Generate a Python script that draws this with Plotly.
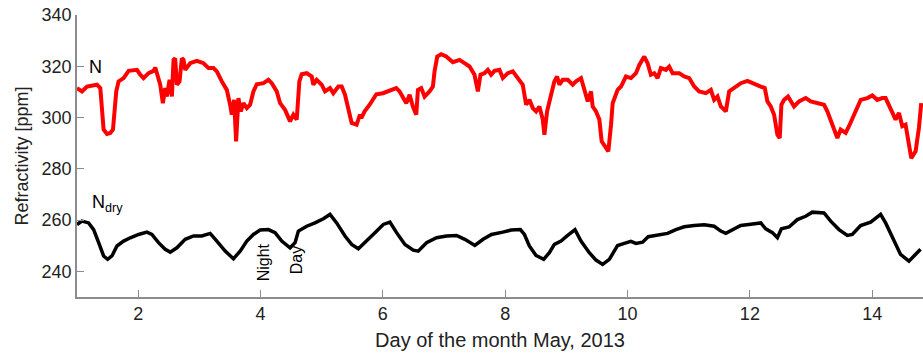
import plotly.graph_objects as go

# Total refractivity N (red)
n_day = [1.000, 1.082, 1.163, 1.327, 1.381, 1.408, 1.435, 1.490, 1.544, 1.588, 1.610, 1.642, 1.680,
         1.762, 1.844, 1.980, 2.034, 2.088, 2.170, 2.252, 2.279, 2.333, 2.361, 2.404, 2.442, 2.469,
         2.513, 2.551, 2.578, 2.605, 2.633, 2.676, 2.714, 2.741, 2.769, 2.850, 2.959, 3.068, 3.150,
         3.231, 3.286, 3.367, 3.449, 3.503, 3.531, 3.569, 3.601, 3.639, 3.678, 3.721, 3.776, 3.830,
         3.884, 3.939, 4.048, 4.129, 4.184, 4.265, 4.320, 4.401, 4.483, 4.537, 4.592, 4.635, 4.673,
         4.755, 4.837, 4.864, 4.918, 5.000, 5.054, 5.136, 5.190, 5.272, 5.327, 5.381, 5.435, 5.490,
         5.571, 5.626,
         5.648, 5.702, 5.784, 5.838, 5.893, 6.002, 6.110, 6.219, 6.274, 6.328, 6.383, 6.437,
         6.491, 6.546, 6.573, 6.627, 6.682, 6.763, 6.818, 6.845, 6.889, 6.954, 7.036, 7.145, 7.253,
         7.335, 7.417, 7.498, 7.553, 7.596, 7.661, 7.716, 7.770, 7.825, 7.906, 7.961, 8.042, 8.124,
         8.206, 8.287, 8.342, 8.396, 8.451, 8.505, 8.559, 8.614, 8.641, 8.685, 8.750, 8.804, 8.848,
         8.886, 8.940, 9.022, 9.104, 9.158, 9.240, 9.294, 9.349, 9.403, 9.430, 9.485, 9.539, 9.577,
         9.632, 9.686, 9.730, 9.757, 9.838, 9.893, 9.974, 10.056, 10.138,
         10.192, 10.273, 10.328, 10.382, 10.437, 10.491, 10.545, 10.627, 10.681, 10.736, 10.845,
         10.926, 11.008, 11.090, 11.171, 11.280, 11.362, 11.416, 11.471, 11.525, 11.607, 11.661,
         11.743, 11.852, 11.960, 12.069, 12.178, 12.243, 12.287, 12.341, 12.396, 12.450, 12.488,
         12.515, 12.559, 12.624, 12.668, 12.722, 12.804, 12.913, 12.994, 13.103, 13.212, 13.266,
         13.348, 13.430, 13.484, 13.566, 13.620, 13.702, 13.811, 13.920, 14.001, 14.083, 14.164,
         14.219, 14.300, 14.382, 14.437, 14.491, 14.545, 14.600, 14.638, 14.709, 14.763, 14.801]
n_val = [311.5, 310.2, 312.1, 312.8, 311.5, 302.4, 295.3, 293.6, 294.0, 295.3, 303.7, 310.2, 314.1,
         315.4, 318.2, 318.6, 316.7, 315.4, 317.3, 318.2, 319.5, 315.4, 312.8, 305.6, 311.5, 308.2,
         314.7, 308.2, 322.5, 323.1, 312.8, 314.1, 323.1, 322.5, 318.6, 321.2, 322.1, 321.2, 319.3,
         319.3, 318.0, 314.1, 310.8, 305.0, 301.1, 306.9, 290.7, 307.6, 302.4, 305.6, 303.7, 305.0,
         310.2, 313.0, 313.4, 314.7, 313.4, 310.2, 305.6, 303.0, 298.5, 301.1, 299.2, 314.1, 316.9,
         317.3, 316.0, 312.8, 314.7, 312.8, 310.2, 311.5, 309.5, 312.1, 312.1, 308.9, 303.7, 297.9,
         297.2, 301.1,
         299.8, 302.4, 305.0, 306.9, 309.1, 309.5, 310.4, 311.5, 310.2, 307.6, 305.6, 308.9,
         304.3, 301.1, 310.8, 311.5, 308.2, 310.2, 312.1, 318.0, 323.8, 324.7, 323.8, 321.6, 322.5,
         321.2, 319.9, 316.7, 310.2, 316.7, 317.3, 318.6, 316.7, 318.2, 318.6, 315.4, 317.3, 318.0,
         315.4, 312.8, 305.0, 306.9, 303.7, 302.4, 304.3, 299.2, 293.3, 302.4, 308.9, 314.1, 316.0,
         312.8, 314.7, 314.7, 312.8, 314.1, 315.4, 310.2, 306.3, 310.2, 304.3, 302.4, 299.2, 290.7,
         288.8, 286.8, 297.2, 305.6, 310.8, 312.1, 316.0, 315.4, 317.3,
         320.5, 323.8, 321.2, 316.7, 317.3, 315.4, 319.3, 318.6, 319.9, 317.3, 317.3,
         316.0, 315.4, 312.1, 310.2, 309.5, 310.8, 306.9, 308.2, 304.3, 302.4, 310.2,
         311.5, 313.4, 314.3, 313.0, 312.1, 311.5, 306.3, 304.3, 301.1, 293.3, 292.0,
         305.0, 306.9, 308.2, 306.3, 304.3, 306.3, 307.6, 306.3, 305.6, 305.0, 302.4,
         297.2, 292.0, 295.3, 294.0, 296.6, 301.1, 306.9, 307.6, 308.6, 306.9, 307.6,
         307.6, 303.7, 299.2, 301.8, 296.6, 297.2, 290.0, 284.2, 286.8, 295.9, 305.6]

# Dry refractivity N_dry (black)
ndry_day = [1.000, 1.082, 1.190, 1.272, 1.354, 1.435, 1.501, 1.571, 1.653, 1.762, 1.871, 2.007, 2.143,
            2.224, 2.333, 2.442, 2.524, 2.633, 2.769, 2.905, 3.041, 3.177, 3.286, 3.422, 3.558, 3.667,
            3.776, 3.884, 3.993, 4.129, 4.238, 4.347, 4.483, 4.565, 4.619, 4.755, 4.891, 5.027, 5.136,
            5.245, 5.381, 5.490, 5.599, 5.735, 5.871, 6.007, 6.116, 6.224, 6.361, 6.497, 6.578, 6.714,
            6.878, 7.041, 7.204, 7.340, 7.503, 7.639, 7.776,
            7.960, 8.096, 8.248, 8.314, 8.395, 8.504, 8.629, 8.722, 8.804, 8.912, 9.021, 9.141, 9.239,
            9.375, 9.484, 9.593, 9.702, 9.838, 9.946, 10.055, 10.137, 10.246, 10.338, 10.491, 10.654,
            10.790, 10.926, 11.089, 11.253, 11.416, 11.525, 11.606, 11.715, 11.851, 12.014, 12.178,
            12.259, 12.368, 12.450, 12.515, 12.640, 12.776, 12.912, 13.021, 13.212, 13.321, 13.457,
            13.593, 13.674, 13.810, 13.974, 14.137, 14.219, 14.327, 14.463, 14.600, 14.708, 14.790]
ndry_val = [258.3, 259.6, 258.9, 256.3, 251.2, 246.0, 244.7, 246.0, 249.9, 251.8, 253.1, 254.4, 255.3,
            254.4, 251.2, 248.6, 247.5, 249.2, 252.5, 253.8, 253.8, 254.8, 251.8, 247.9, 244.9, 247.9,
            251.8, 254.4, 256.1, 256.3, 255.1, 251.8, 249.2, 251.2, 255.7, 257.6, 258.9, 260.5, 262.2,
            258.9, 253.8, 250.5, 248.8, 251.8, 255.1, 258.3, 259.2, 255.1, 250.5, 248.3, 247.9, 251.2,
            253.1, 253.8, 254.0, 252.5, 250.1, 252.5, 254.4,
            255.3, 256.1, 256.3, 254.4, 249.9, 246.2, 244.7, 247.3, 250.5, 251.8, 254.0, 256.3, 251.8,
            247.3, 244.4, 242.7, 244.7, 250.1, 250.9, 251.7, 250.9, 251.4, 253.5, 254.0, 254.8,
            256.3, 257.4, 257.9, 258.2, 257.6, 255.7, 254.8, 256.3, 257.9, 258.4, 258.9,
            256.6, 255.1, 253.1, 256.6, 257.3, 260.2, 261.5, 263.1, 262.8, 259.6, 256.3,
            254.0, 254.4, 257.9, 259.2, 262.2, 258.9, 253.1, 246.6, 244.0, 246.6, 248.6]

x_ticks = [2, 4, 6, 8, 10, 12, 14]
y_ticks = [240, 260, 280, 300, 320, 340]

FONT = "Liberation Sans, Arial, sans-serif"
AXIS_GRAY = "#8c8c8c"
TXT = "#222"

fig = go.Figure()
fig.add_trace(go.Scatter(x=n_day, y=n_val, mode="lines",
                         line=dict(color="#ff0000", width=4), showlegend=False))
fig.add_trace(go.Scatter(x=ndry_day, y=ndry_val, mode="lines",
                         line=dict(color="#000000", width=3.5), showlegend=False))

fig.add_annotation(x=1.31, y=319.8, text="N", showarrow=False,
                   font=dict(family=FONT, size=18, color="#000"))
fig.add_annotation(x=1.21, y=266.5, text="N<sub>dry</sub>", showarrow=False, xanchor="left",
                   font=dict(family=FONT, size=18, color="#000"))
fig.add_annotation(x=4.04, y=243.5, text="Night", showarrow=False, textangle=-90,
                   font=dict(family=FONT, size=16, color="#000"))
fig.add_annotation(x=4.59, y=244.2, text="Day", showarrow=False, textangle=-90,
                   font=dict(family=FONT, size=16, color="#000"))

fig.update_layout(
    width=923, height=354,
    margin=dict(l=77, r=0, t=15, b=57),
    paper_bgcolor="white", plot_bgcolor="white",
    font=dict(family=FONT, size=18, color=TXT),
    xaxis=dict(range=[1, 14.83], tickvals=x_ticks, ticktext=[str(v) for v in x_ticks],
               showgrid=False, zeroline=False, showline=True, linecolor=AXIS_GRAY, linewidth=1.5,
               ticks="inside", ticklen=7, tickcolor=AXIS_GRAY, tickwidth=1,
               title=dict(text="Day of the month May, 2013", standoff=10,
                          font=dict(family=FONT, size=20, color=TXT)),
               tickfont=dict(family=FONT, size=18, color=TXT)),
    yaxis=dict(range=[230, 340], tickvals=y_ticks, ticktext=[str(v) for v in y_ticks],
               showgrid=False, zeroline=False, showline=True, linecolor=AXIS_GRAY, linewidth=1.5,
               ticks="inside", ticklen=7, tickcolor=AXIS_GRAY, tickwidth=1,
               title=dict(text="Refractivity [ppm]", standoff=8,
                          font=dict(family=FONT, size=18, color=TXT)),
               tickfont=dict(family=FONT, size=18, color=TXT)),
)

fig.write_html("out.html")
